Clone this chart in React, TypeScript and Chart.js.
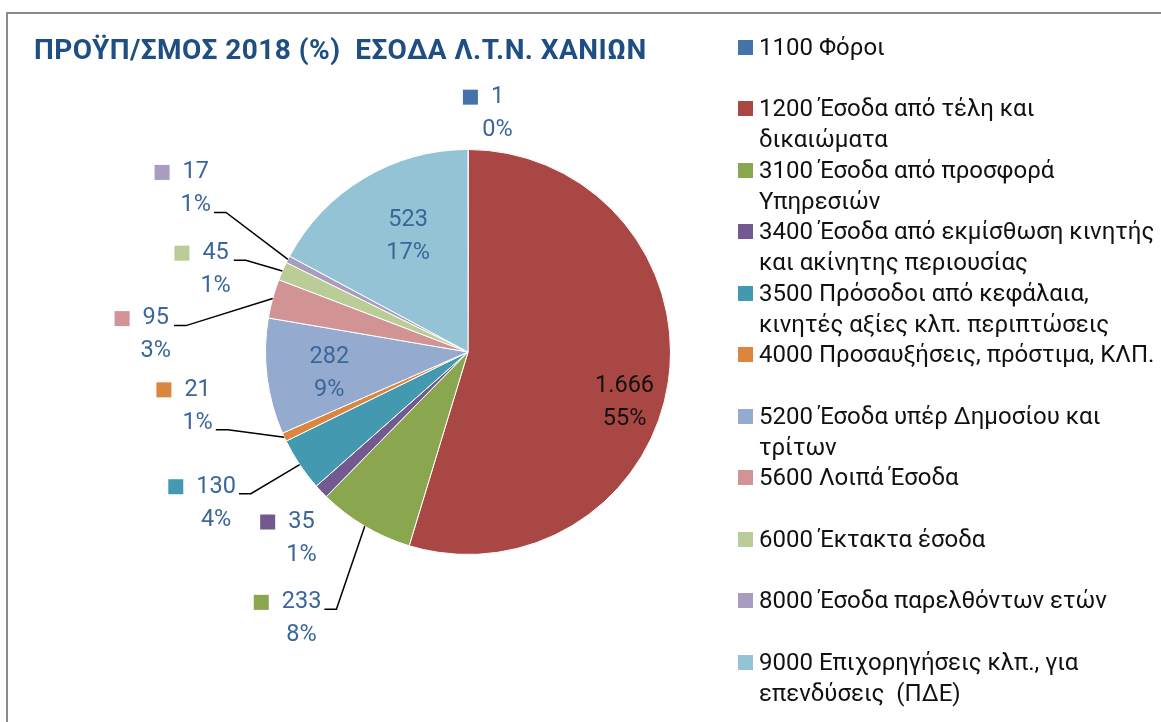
import React, { useEffect, useRef } from "react";
import { Chart, registerables } from "chart.js";

Chart.register(...registerables);

const TITLE = "ΠΡΟΫΠ/ΣΜΟΣ 2018 (%)  ΕΣΟΔΑ Λ.Τ.Ν. ΧΑΝΙΩΝ";

const categories: string[][] = [
  ["1100 Φόροι"],
  ["1200 Έσοδα από τέλη και", "δικαιώματα"],
  ["3100 Έσοδα από προσφορά", "Υπηρεσιών"],
  ["3400 Έσοδα από εκμίσθωση κινητής", "και ακίνητης περιουσίας"],
  ["3500 Πρόσοδοι από κεφάλαια,", "κινητές αξίες κλπ. περιπτώσεις"],
  ["4000 Προσαυξήσεις, πρόστιμα, ΚΛΠ."],
  ["5200 Έσοδα υπέρ Δημοσίου και", "τρίτων"],
  ["5600 Λοιπά Έσοδα"],
  ["6000 Έκτακτα έσοδα"],
  ["8000 Έσοδα παρελθόντων ετών"],
  ["9000 Επιχορηγήσεις κλπ., για", "επενδύσεις  (ΠΔΕ)"],
];

const values: number[] = [1, 1666, 233, 35, 130, 21, 282, 95, 45, 17, 523];

const sliceColors: string[] = [
  "#4572A8",
  "#A94744",
  "#8AA64F",
  "#725990",
  "#4299B0",
  "#DC853E",
  "#95AACF",
  "#D29394",
  "#BACD96",
  "#A99CBF",
  "#93C3D5",
];

// data-label placement, relative to each slice (distance in radii, turn in degrees)
const labelDist: number[] = [1.186, 0.812, 1.553, 1.235, 1.451, 1.362, 0.693, 1.544, 1.311, 1.567, 0.643];
const labelTurn: number[] = [7.0, 9.3, 1.3, -4.7, 2.8, 13.5, -1.8, -12.2, -5.5, 3.7, 3.5];
const labelLeader: boolean[] = [false, false, true, false, true, true, false, true, true, true, false];
const LABEL_BLUE = "#3A679B";
const labelInk: string[] = [
  LABEL_BLUE, "#111111", LABEL_BLUE, LABEL_BLUE, LABEL_BLUE, LABEL_BLUE,
  LABEL_BLUE, LABEL_BLUE, LABEL_BLUE, LABEL_BLUE, LABEL_BLUE,
];

const FONT = "Roboto, 'Noto Sans', sans-serif";

function fmtNum(n: number): string {
  return String(n).replace(/\B(?=(\d{3})+(?!\d))/g, ".");
}

const pieLabels = {
  id: "pieLabels",
  afterDatasetsDraw(chart: any) {
    const ctx: CanvasRenderingContext2D = chart.ctx;
    const meta = chart.getDatasetMeta(0);
    const data = chart.data.datasets[0].data as number[];
    const total = data.reduce((a, b) => a + b, 0);
    ctx.save();
    ctx.font = `23.5px ${FONT}`;
    ctx.textAlign = "center";
    ctx.textBaseline = "middle";
    meta.data.forEach((el: any, i: number) => {
      const p = el.getProps(["x", "y", "startAngle", "endAngle", "outerRadius"], true);
      const mid = (p.startAngle + p.endAngle) / 2;
      const a = mid + (labelTurn[i] * Math.PI) / 180;
      const d = labelDist[i] * p.outerRadius;
      const cx = p.x + Math.cos(a) * d;
      const cy = p.y + Math.sin(a) * d;
      const l1 = fmtNum(data[i]);
      const l2 = Math.round((data[i] / total) * 100) + "%";
      const y1 = cy - 16.5;
      const y2 = cy + 16.5;
      const w1 = ctx.measureText(l1).width;
      const w2 = ctx.measureText(l2).width;
      ctx.fillStyle = labelInk[i];
      ctx.fillText(l1, cx, y1);
      ctx.fillText(l2, cx, y2);
      if (labelDist[i] > 1) {
        ctx.fillStyle = sliceColors[i];
        ctx.fillRect(cx - w1 / 2 - 13 - 15, y1 - 7.5, 15, 15);
      }
      if (labelLeader[i]) {
        const ax = p.x + Math.cos(mid) * p.outerRadius;
        const ay = p.y + Math.sin(mid) * p.outerRadius;
        const ly = Math.abs(y1 + 7 - ay) < Math.abs(y2 + 7 - ay) ? y1 + 7 : y2 + 7;
        const half = Math.max(w1, w2) / 2 + 3;
        const dir = ax > cx ? 1 : -1;
        const sx = cx + dir * half;
        const ex = sx + dir * 12;
        ctx.strokeStyle = "#000000";
        ctx.lineWidth = 1.5;
        ctx.beginPath();
        ctx.moveTo(sx, ly);
        ctx.lineTo(ex, ly);
        ctx.lineTo(ax, ay);
        ctx.stroke();
      }
    });
    ctx.restore();
  },
};

export default function App() {
  const ref = useRef<HTMLCanvasElement>(null);

  useEffect(() => {
    document.body.style.margin = "0";
    const chart = new Chart(ref.current as HTMLCanvasElement, {
      type: "pie",
      data: {
        labels: categories,
        datasets: [
          {
            data: values,
            backgroundColor: sliceColors,
            borderColor: "#ffffff",
            borderWidth: 1,
          },
        ],
      },
      options: {
        responsive: false,
        animation: false,
        layout: { padding: { left: 265, right: 490, top: 149, bottom: 167 } },
        plugins: {
          legend: { display: false },
          tooltip: { enabled: false },
          title: { display: false },
        },
      },
      plugins: [pieLabels],
    });
    return () => chart.destroy();
  }, []);

  return (
    <div
      style={{
        position: "absolute",
        left: 0,
        top: 0,
        width: 1161,
        height: 722,
        overflow: "hidden",
        background: "#ffffff",
        fontFamily: FONT,
      }}
    >
      <div
        style={{
          position: "absolute",
          left: 6,
          top: 12,
          width: 1300,
          height: 900,
          border: "2px solid #8a8a8a",
          boxSizing: "border-box",
        }}
      />
      <canvas
        ref={ref}
        width={1161}
        height={722}
        style={{ position: "absolute", left: 0, top: 0, width: 1161, height: 722 }}
      />
      <div
        style={{
          position: "absolute",
          left: 34,
          top: 35,
          height: 30,
          lineHeight: "30px",
          fontSize: 28,
          fontWeight: 700,
          letterSpacing: "0.45px",
          color: "#1F4E82",
          whiteSpace: "pre",
        }}
      >
        {TITLE}
      </div>
      {categories.map((lines, i) => (
        <div
          key={i}
          style={{
            position: "absolute",
            left: 738,
            top: 31.5 + i * 61.5,
            height: 61.5,
            width: 430,
          }}
        >
          <div
            style={{
              position: "absolute",
              left: 0,
              top: 8,
              width: 15,
              height: 15,
              background: sliceColors[i],
            }}
          />
          <div
            style={{
              position: "absolute",
              left: 21,
              top: 0,
              fontSize: 24,
              lineHeight: "31px",
              color: "#111111",
              whiteSpace: "pre",
            }}
          >
            {lines.map((ln, j) => (
              <div key={j}>{ln}</div>
            ))}
          </div>
        </div>
      ))}
    </div>
  );
}
